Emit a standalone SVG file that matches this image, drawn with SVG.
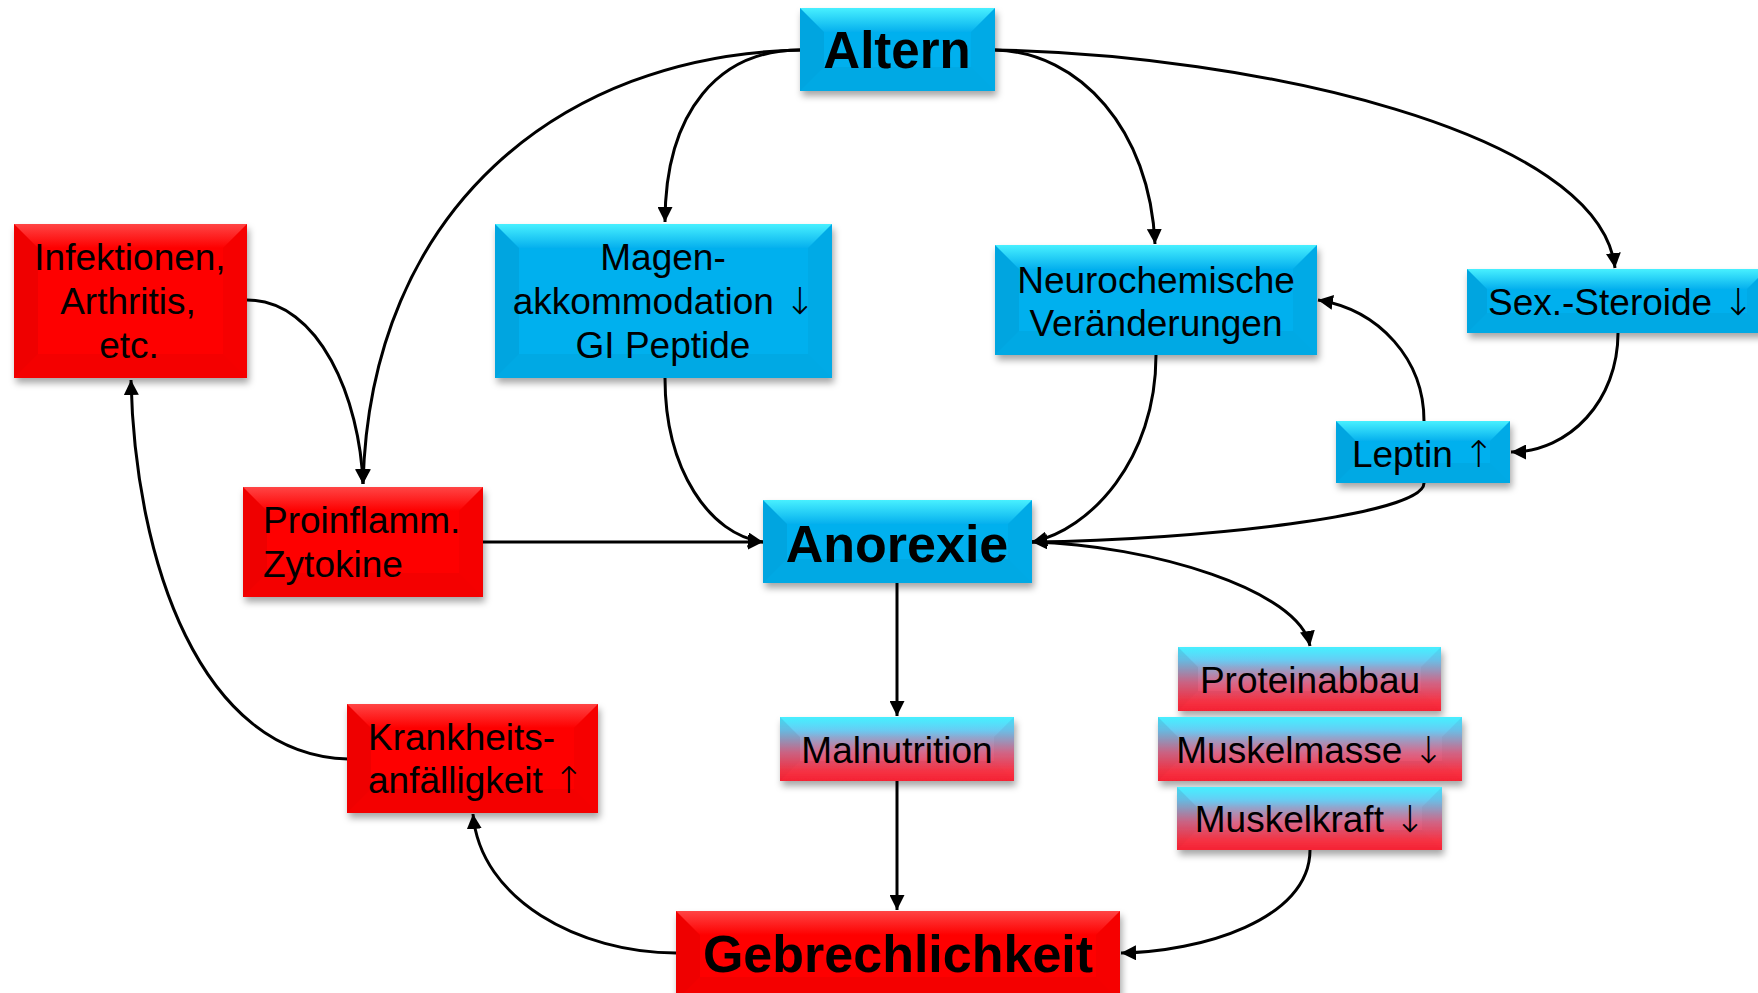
<svg xmlns="http://www.w3.org/2000/svg" width="1758" height="993" viewBox="0 0 1758 993">
<defs>
<style>
.t{font-family:"Liberation Sans",Arial,sans-serif;font-size:37px;fill:#000}
.ar{font-family:"DejaVu Sans",sans-serif;font-weight:200}
.c{text-anchor:middle}
.b{font-weight:bold;font-size:52px}
.blue{fill:#05b0ee}
.red{fill:#fe0000}
.grad{fill:url(#gr)}
.topb{fill:url(#tb)}
.topr{fill:url(#tr)}
.topg{fill:url(#tg)}
.lf{fill:#000;fill-opacity:.06}
.rt{fill:#000;fill-opacity:.03}
.bt{fill:#000;fill-opacity:.04}
.base{filter:url(#sh)}
.con{fill:none;stroke:#000;stroke-width:3;marker-end:url(#ah)}
</style>
<linearGradient id="gr" x1="0" y1="0" x2="0" y2="1">
<stop offset="0" stop-color="#44e8ff"/>
<stop offset="0.2" stop-color="#6cc6f0"/>
<stop offset="0.55" stop-color="#d66a8c"/>
<stop offset="0.85" stop-color="#ff3446"/>
<stop offset="1" stop-color="#ff2436"/>
</linearGradient>
<linearGradient id="tb" x1="0" y1="0" x2="0" y2="1">
<stop offset="0" stop-color="#48f0ff"/>
<stop offset="1" stop-color="#05b0ee"/>
</linearGradient>
<linearGradient id="tr" x1="0" y1="0" x2="0" y2="1">
<stop offset="0" stop-color="#ff4545"/>
<stop offset="1" stop-color="#fe0000"/>
</linearGradient>
<linearGradient id="tg" x1="0" y1="0" x2="0" y2="1">
<stop offset="0" stop-color="#48f0ff" stop-opacity="0.9"/>
<stop offset="1" stop-color="#66d0f6" stop-opacity="0"/>
</linearGradient>
<filter id="sh" x="-10%" y="-15%" width="125%" height="140%">
<feDropShadow dx="2" dy="5" stdDeviation="3.5" flood-color="#000" flood-opacity="0.35"/>
</filter>
<marker id="ah" viewBox="0 0 10 10" refX="10" refY="5" markerWidth="15" markerHeight="15" markerUnits="userSpaceOnUse" orient="auto">
<path d="M0,0 L10,5 L0,10 z" fill="#000"/>
</marker>
</defs>
<rect width="1758" height="993" fill="#fff"/>

<g id="connectors">
<path class="con" d="M800,50 C720,50 665,110 665,222"/>
<path class="con" d="M800,50 C560,55 370,210 363,484"/>
<path class="con" d="M995,50 C1080,52 1150,130 1155,244"/>
<path class="con" d="M995,50 C1250,55 1600,130 1615,268"/>
<path class="con" d="M247,300 C320,300 360,400 363,484"/>
<path class="con" d="M665,378 C665,470 710,535 763,542"/>
<path class="con" d="M483,542 L763,542"/>
<path class="con" d="M1156,355 C1156,460 1090,530 1032,542"/>
<path class="con" d="M1424,483 C1424,515 1200,540 1032,542"/>
<path class="con" d="M1424,421 C1424,360 1380,310 1318,300"/>
<path class="con" d="M1618,333 C1618,400 1570,452 1511,452"/>
<path class="con" d="M1032,542 C1150,545 1300,590 1310,646"/>
<path class="con" d="M897,583 L897,716"/>
<path class="con" d="M897,781 L897,910"/>
<path class="con" d="M1310,850 C1310,920 1200,952 1121,953"/>
<path class="con" d="M676,953 C580,953 480,900 473,814"/>
<path class="con" d="M348,759 C200,755 135,560 131,380"/>
</g>

<g id="altern">
<rect class="blue base" x="800" y="8" width="195" height="83"/>
<polygon class="topb" points="800,8 995,8 971,32 824,32"/>
<polygon class="bt" points="800,91 995,91 971,67 824,67"/>
<polygon class="lf" points="800,8 824,32 824,67 800,91"/>
<polygon class="rt" points="995,8 971,32 971,67 995,91"/>
<text class="t c b" x="897" y="68" style="font-size:51px">Altern</text>
</g>

<g id="infektionen">
<rect class="red base" x="14" y="224" width="233" height="154"/>
<polygon class="topr" points="14,224 247,224 223,248 38,248"/>
<polygon class="bt" points="14,378 247,378 223,354 38,354"/>
<polygon class="lf" points="14,224 38,248 38,354 14,378"/>
<polygon class="rt" points="247,224 223,248 223,354 247,378"/>
<text class="t c" x="130" y="270">Infektionen,</text>
<text class="t c" x="128" y="314">Arthritis,</text>
<text class="t c" x="129" y="358">etc.</text>
</g>

<g id="magen">
<rect class="blue base" x="495" y="224" width="337" height="154"/>
<polygon class="topb" points="495,224 832,224 808,248 519,248"/>
<polygon class="bt" points="495,378 832,378 808,354 519,354"/>
<polygon class="lf" points="495,224 519,248 519,354 495,378"/>
<polygon class="rt" points="832,224 808,248 808,354 832,378"/>
<text class="t c" x="663" y="270">Magen-</text>
<text class="t c" x="664" y="314">akkommodation <tspan class="ar">↓</tspan></text>
<text class="t c" x="663" y="358">GI Peptide</text>
</g>

<g id="neuro">
<rect class="blue base" x="995" y="245" width="322" height="110"/>
<polygon class="topb" points="995,245 1317,245 1293,269 1019,269"/>
<polygon class="bt" points="995,355 1317,355 1293,331 1019,331"/>
<polygon class="lf" points="995,245 1019,269 1019,331 995,355"/>
<polygon class="rt" points="1317,245 1293,269 1293,331 1317,355"/>
<text class="t c" x="1156" y="293">Neurochemische</text>
<text class="t c" x="1156" y="336">Veränderungen</text>
</g>

<g id="sexsteroide">
<rect class="blue base" x="1467" y="269" width="300" height="64"/>
<polygon class="topb" points="1467,269 1767,269 1747,289 1487,289"/>
<polygon class="bt" points="1467,333 1767,333 1747,313 1487,313"/>
<polygon class="lf" points="1467,269 1487,289 1487,313 1467,333"/>
<polygon class="rt" points="1767,269 1747,289 1747,313 1767,333"/>
<text class="t" x="1488" y="315">Sex.-Steroide <tspan class="ar">↓</tspan></text>
</g>

<g id="leptin">
<rect class="blue base" x="1336" y="421" width="174" height="62"/>
<polygon class="topb" points="1336,421 1510,421 1490,441 1356,441"/>
<polygon class="bt" points="1336,483 1510,483 1490,463 1356,463"/>
<polygon class="lf" points="1336,421 1356,441 1356,463 1336,483"/>
<polygon class="rt" points="1510,421 1490,441 1490,463 1510,483"/>
<text class="t c" x="1423" y="467">Leptin <tspan class="ar">↑</tspan></text>
</g>

<g id="proinflamm">
<rect class="red base" x="243" y="487" width="240" height="110"/>
<polygon class="topr" points="243,487 483,487 459,511 267,511"/>
<polygon class="bt" points="243,597 483,597 459,573 267,573"/>
<polygon class="lf" points="243,487 267,511 267,573 243,597"/>
<polygon class="rt" points="483,487 459,511 459,573 483,597"/>
<text class="t" x="263" y="533">Proinflamm.</text>
<text class="t" x="263" y="577">Zytokine</text>
</g>

<g id="anorexie">
<rect class="blue base" x="763" y="500" width="269" height="83"/>
<polygon class="topb" points="763,500 1032,500 1008,524 787,524"/>
<polygon class="bt" points="763,583 1032,583 1008,559 787,559"/>
<polygon class="lf" points="763,500 787,524 787,559 763,583"/>
<polygon class="rt" points="1032,500 1008,524 1008,559 1032,583"/>
<text class="t c b" x="897" y="562">Anorexie</text>
</g>

<g id="malnutrition">
<rect class="grad base" x="780" y="717" width="234" height="64"/>
<polygon class="topg" points="780,717 1014,717 994,737 800,737"/>
<polygon class="bt" points="780,781 1014,781 994,761 800,761"/>
<polygon class="lf" points="780,717 800,737 800,761 780,781"/>
<polygon class="rt" points="1014,717 994,737 994,761 1014,781"/>
<text class="t c" x="897" y="763">Malnutrition</text>
</g>

<g id="proteinabbau">
<rect class="grad base" x="1178" y="647" width="263" height="64"/>
<polygon class="topg" points="1178,647 1441,647 1421,667 1198,667"/>
<polygon class="bt" points="1178,711 1441,711 1421,691 1198,691"/>
<polygon class="lf" points="1178,647 1198,667 1198,691 1178,711"/>
<polygon class="rt" points="1441,647 1421,667 1421,691 1441,711"/>
<text class="t c" x="1310" y="693">Proteinabbau</text>
</g>

<g id="muskelmasse">
<rect class="grad base" x="1158" y="717" width="304" height="64"/>
<polygon class="topg" points="1158,717 1462,717 1442,737 1178,737"/>
<polygon class="bt" points="1158,781 1462,781 1442,761 1178,761"/>
<polygon class="lf" points="1158,717 1178,737 1178,761 1158,781"/>
<polygon class="rt" points="1462,717 1442,737 1442,761 1462,781"/>
<text class="t c" x="1310" y="763">Muskelmasse <tspan class="ar">↓</tspan></text>
</g>

<g id="muskelkraft">
<rect class="grad base" x="1177" y="787" width="265" height="63"/>
<polygon class="topg" points="1177,787 1442,787 1422,807 1197,807"/>
<polygon class="bt" points="1177,850 1442,850 1422,830 1197,830"/>
<polygon class="lf" points="1177,787 1197,807 1197,830 1177,850"/>
<polygon class="rt" points="1442,787 1422,807 1422,830 1442,850"/>
<text class="t c" x="1310" y="832">Muskelkraft <tspan class="ar">↓</tspan></text>
</g>

<g id="krankheit">
<rect class="red base" x="347" y="704" width="251" height="109"/>
<polygon class="topr" points="347,704 598,704 574,728 371,728"/>
<polygon class="bt" points="347,813 598,813 574,789 371,789"/>
<polygon class="lf" points="347,704 371,728 371,789 347,813"/>
<polygon class="rt" points="598,704 574,728 574,789 598,813"/>
<text class="t" x="368" y="750">Krankheits-</text>
<text class="t" x="368" y="793">anfälligkeit <tspan class="ar">↑</tspan></text>
</g>

<g id="gebrechlichkeit">
<rect class="red base" x="676" y="911" width="444" height="90"/>
<polygon class="topr" points="676,911 1120,911 1096,935 700,935"/>
<polygon class="bt" points="676,1001 1120,1001 1096,977 700,977"/>
<polygon class="lf" points="676,911 700,935 700,977 676,1001"/>
<polygon class="rt" points="1120,911 1096,935 1096,977 1120,1001"/>
<text class="t c b" x="898" y="972">Gebrechlichkeit</text>
</g>
</svg>
